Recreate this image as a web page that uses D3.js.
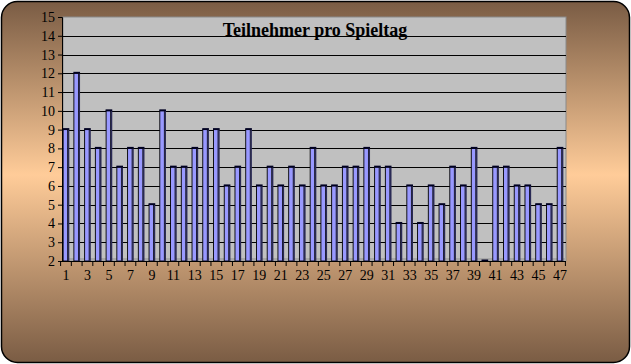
<!DOCTYPE html>
<html><head><meta charset="utf-8">
<script src="https://cdn.jsdelivr.net/npm/d3@7"></script>
<style>html,body{margin:0;padding:0;background:#fff;}svg{display:block;}</style>
</head><body>
<script>
const categories = d3.range(1, 48);
const values = [9,12,9,8,10,7,8,8,5,10,7,7,8,9,9,6,7,9,6,7,6,7,6,8,6,6,7,7,8,7,7,4,6,4,6,5,7,6,8,2,7,7,6,6,5,5,8];
const yTicks = d3.range(2, 16);
const xTickLabels = categories.filter(c => c % 2 === 1);
const title = "Teilnehmer pro Spieltag";

const W = 631, H = 364;
const svg = d3.select("body").append("svg").attr("width", W).attr("height", H);
const defs = svg.append("defs");
const g = defs.append("linearGradient").attr("id", "bg").attr("x1", 0).attr("y1", 0).attr("x2", 0).attr("y2", 1);
g.append("stop").attr("offset", "0%").attr("stop-color", "#7a5c44");
g.append("stop").attr("offset", "48%").attr("stop-color", "#ffcc99");
g.append("stop").attr("offset", "100%").attr("stop-color", "#7a5c44");

svg.append("rect").attr("x", 1.5).attr("y", 1.5).attr("width", W - 3).attr("height", H - 3)
  .attr("rx", 16).attr("ry", 16).attr("fill", "url(#bg)").attr("stroke", "#000").attr("stroke-width", 1.5);

const plotL = 62, plotR = 566, plotT = 17, plotB = 261;
const x = d3.scaleBand().domain(categories).range([60.6, 565.4]).paddingInner(0.38).paddingOuter(0.19);
const y = d3.scaleLinear().domain([2, 15]).range([plotB, plotT]);

// plot area
svg.append("rect").attr("x", plotL + 1).attr("y", plotT).attr("width", plotR - plotL - 1).attr("height", plotB - plotT)
  .attr("fill", "#c0c0c0").attr("stroke", "#8a8a8a").attr("stroke-width", 1);
// floor
svg.append("rect").attr("x", plotL + 1).attr("y", plotB - 3).attr("width", plotR - plotL - 1).attr("height", 3)
  .attr("fill", "#a8a8a8");

// gridlines
svg.append("g").selectAll("line").data(yTicks.filter(t => t > 2 && t < 15)).join("line")
  .attr("x1", plotL).attr("x2", plotR).attr("y1", d => Math.round(y(d)) + 0.5).attr("y2", d => Math.round(y(d)) + 0.5)
  .attr("stroke", "#000").attr("stroke-width", 1);

// title
svg.append("text").attr("x", 315).attr("y", 36).attr("text-anchor", "middle")
  .attr("font-family", "'Liberation Serif', 'Times New Roman', serif").attr("font-weight", "bold")
  .attr("font-size", 18).attr("fill", "#000").text(title);

// bars
const bw = x.bandwidth(), side = 1.6;
const bars = svg.append("g").selectAll("g").data(categories.map((c, i) => ({c, v: values[i]}))).join("g");
bars.append("rect").attr("x", d => x(d.c) + 0.5).attr("y", d => y(d.v)).attr("width", bw - side - 0.5)
  .attr("height", d => y(2) - y(d.v)).attr("fill", "#9999ff").attr("stroke", "#000").attr("stroke-width", 0.9);
bars.append("rect").attr("x", d => x(d.c) + bw - side).attr("y", d => y(d.v)).attr("width", side)
  .attr("height", d => y(2) - y(d.v)).attr("fill", "#2a2a55");
bars.append("rect").attr("x", d => x(d.c)).attr("y", d => y(d.v) - 1.5).attr("width", bw)
  .attr("height", 1.8).attr("fill", "#000022");

// y axis
const yAxis = d3.axisLeft(y).tickValues(yTicks).tickSize(4).tickPadding(3).tickFormat(d3.format("d"));
const ya = svg.append("g").attr("transform", `translate(${plotL},0)`).call(yAxis);
ya.select(".domain").attr("stroke", "#000");
ya.selectAll("line").attr("stroke", "#000");
ya.selectAll("text").attr("font-family", "'Liberation Serif', 'Times New Roman', serif").attr("font-size", 14).attr("fill", "#000");

// x axis
const xa = svg.append("g").attr("transform", `translate(0,${plotB})`);
xa.append("line").attr("x1", 60.6).attr("x2", plotR).attr("y1", 0.5).attr("y2", 0.5).attr("stroke", "#000");
const bounds = categories.map(c => x(c) - x.step() * x.paddingInner() / 2).concat([565.4]);
xa.selectAll("line.t").data(bounds).join("line").attr("class", "t")
  .attr("x1", d => d).attr("x2", d => d).attr("y1", 0).attr("y2", 5).attr("stroke", "#000");
xa.selectAll("text").data(xTickLabels).join("text")
  .attr("x", d => x(d) + bw / 2).attr("y", 19).attr("text-anchor", "middle")
  .attr("font-family", "'Liberation Serif', 'Times New Roman', serif").attr("font-size", 14).attr("fill", "#000")
  .text(d => d);
</script>
</body></html>
